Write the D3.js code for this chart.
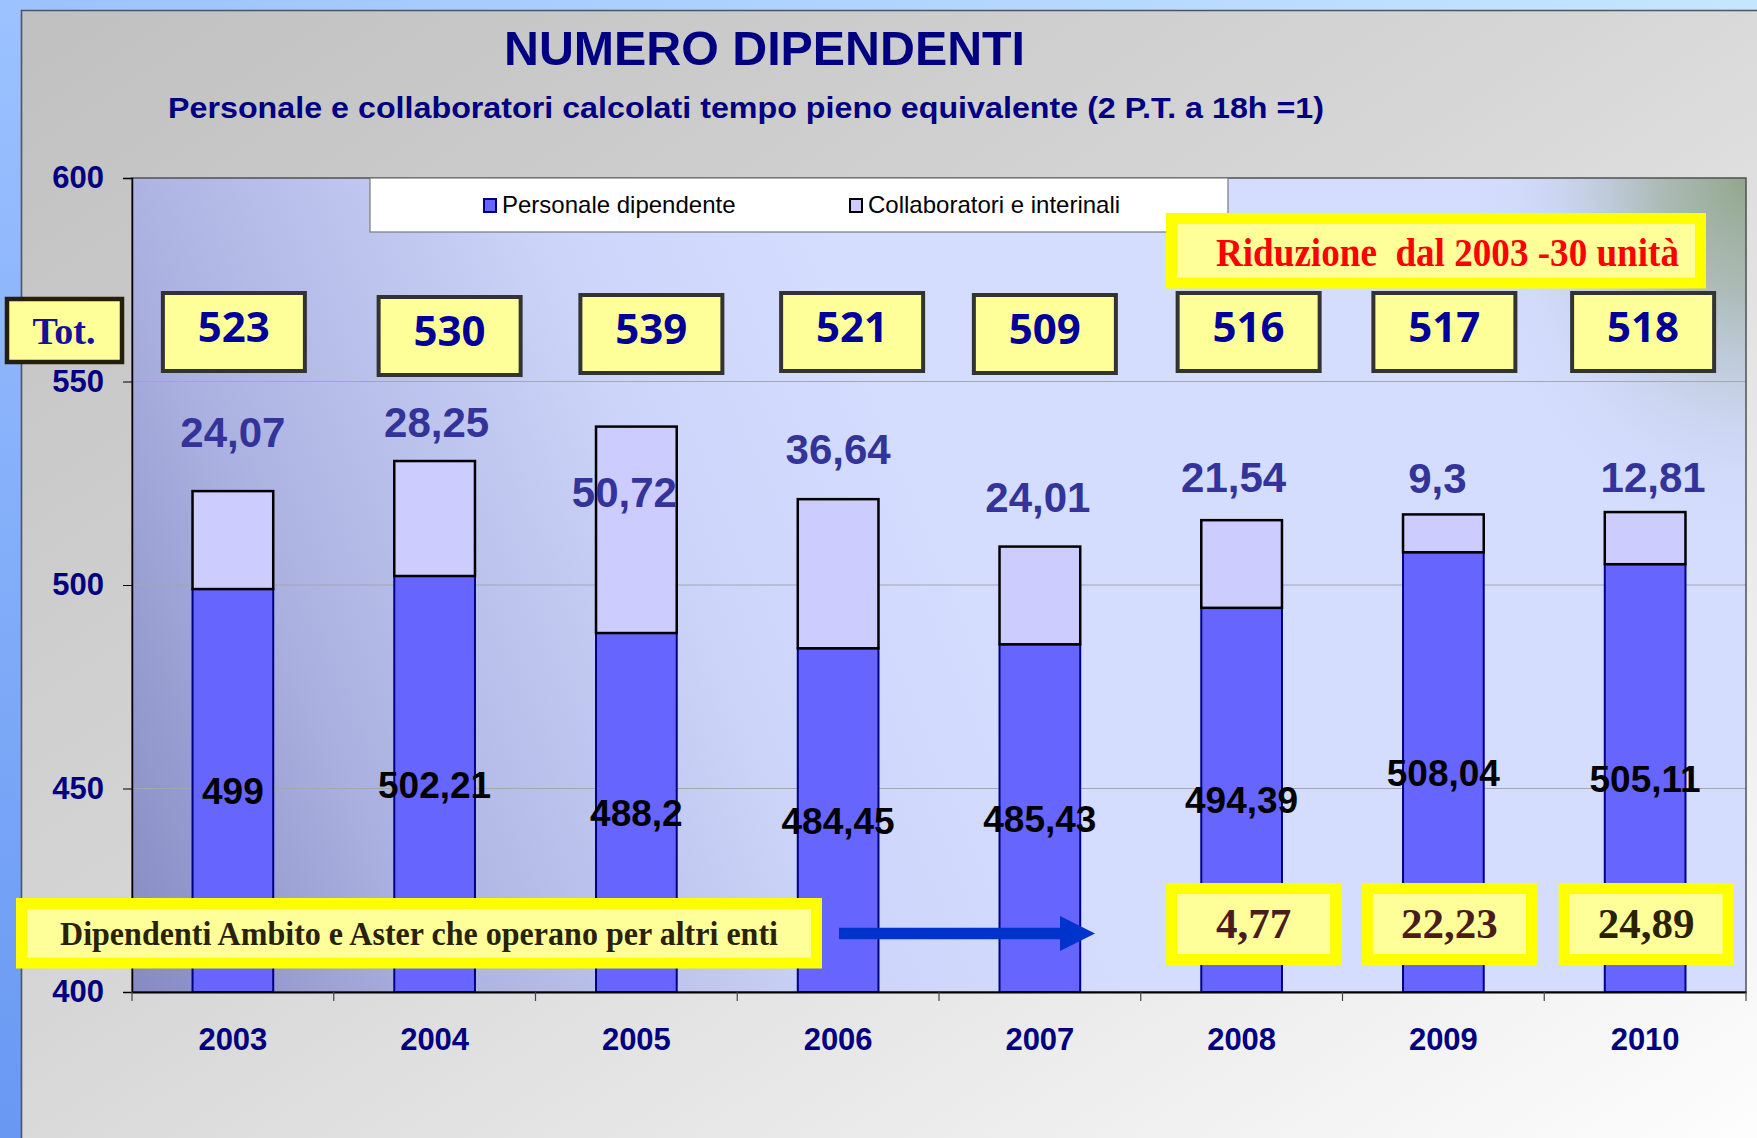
<!DOCTYPE html>
<html><head><meta charset="utf-8">
<script src="https://cdn.jsdelivr.net/npm/d3@7"></script>
<style>html,body{margin:0;padding:0;background:#fff;overflow:hidden} svg{display:block}</style>
</head><body>
<script>
// ---------- DATA ----------
const years = ["2003","2004","2005","2006","2007","2008","2009","2010"];
const personale = [499, 502.21, 488.2, 484.45, 485.43, 494.39, 508.04, 505.11];
const collaboratori = [24.07, 28.25, 50.72, 36.64, 24.01, 21.54, 9.3, 12.81];
const totali = [523, 530, 539, 521, 509, 516, 517, 518];
const altriEntiYears = ["2008","2009","2010"];
const altriEnti = [4.77, 22.23, 24.89];
const yTicks = [400, 450, 500, 550, 600];
const seriesNames = ["Personale dipendente", "Collaboratori e interinali"];

// ---------- LAYOUT (label placement) ----------
const collabLabelAt = [537.5, 540, 522.8, 533.3, 521.6, 526.5, 526.2, 526.5]; // axis value of label centre
const collabLabelDx = [0, 2, -12, 0, -2, -8, -6, 8];
const totBoxDx = [1, 15, 15, 14, 5, 7, 1, -2];
const totBoxTop = [291, 295, 293, 291, 293, 291, 291, 291];
const altriBoxDx = [12, 6, 1];

const fmt = v => String(v).replace(".", ",");
const W = 1757, H = 1138;
const plot = {x0: 132, x1: 1746, y0: 178, y1: 992};

const svg = d3.select("body").append("svg").attr("width", W).attr("height", H);
const defs = svg.append("defs");

function linGrad(id, x1, y1, x2, y2, stops, user) {
  const g = defs.append("linearGradient").attr("id", id)
    .attr("x1", x1).attr("y1", y1).attr("x2", x2).attr("y2", y2);
  if (user) g.attr("gradientUnits", "userSpaceOnUse");
  stops.forEach(s => g.append("stop").attr("offset", s[0]).attr("stop-color", s[1]).attr("stop-opacity", s[2] == null ? 1 : s[2]));
}
linGrad("topStrip", 0, 0, 1, 0, [[0, "#9cc2ff"], [1, "#c6e6ff"]]);
linGrad("leftStrip", 0, 0, 0, 1, [[0, "#9cc2ff"], [1, "#6898f2"]]);
linGrad("panel", 0, 0, 1, 1, [[0, "#c0c0c0"], [0.45, "#d6d6d6"], [1, "#fdfdfd"]]);
linGrad("plotBg", plot.x0, plot.y1, 990, 636, [[0, "#858ac2"], [0.34, "#aeb4e2"], [0.75, "#cdd6fa"], [1, "#d4ddfe"]], true);
const rg = defs.append("radialGradient").attr("id", "corner")
  .attr("gradientUnits", "userSpaceOnUse").attr("cx", plot.x1).attr("cy", plot.y0).attr("r", 300)
  .attr("gradientTransform", `translate(${plot.x1},${plot.y0}) scale(1,1.3) translate(${-plot.x1},${-plot.y0})`);
[[0, "#92a78c", 1], [0.3, "#a6b6ac", 0.85], [0.7, "#c4d0e8", 0.35], [1, "#d4ddfe", 0]]
  .forEach(s => rg.append("stop").attr("offset", s[0]).attr("stop-color", s[1]).attr("stop-opacity", s[2]));

// ---------- BACKGROUND ----------
svg.append("rect").attr("width", W).attr("height", H).attr("fill", "url(#topStrip)");
svg.append("rect").attr("x", 0).attr("y", 0).attr("width", 22).attr("height", H).attr("fill", "url(#leftStrip)");
svg.append("rect").attr("x", 21.5).attr("y", 10.5).attr("width", W - 21).attr("height", H - 10).attr("fill", "url(#panel)");
svg.append("path").attr("d", `M21.5,${H} V10.5 H${W}`).attr("fill", "none").attr("stroke", "#4c5466").attr("stroke-width", 1.6);

// ---------- TITLES ----------
const SANS = "'Liberation Sans', Arial, sans-serif";
const SERIF = "'Liberation Serif', 'Times New Roman', serif";
svg.append("text").attr("x", 504).attr("y", 65).attr("textLength", 521).attr("lengthAdjust", "spacingAndGlyphs")
  .attr("font-family", SANS).attr("font-weight", "bold").attr("font-size", 49).attr("fill", "#000080")
  .text("NUMERO DIPENDENTI");
svg.append("text").attr("x", 168).attr("y", 118).attr("textLength", 1156).attr("lengthAdjust", "spacingAndGlyphs")
  .attr("font-family", SANS).attr("font-weight", "bold").attr("font-size", 30).attr("fill", "#000080")
  .text("Personale e collaboratori calcolati tempo pieno equivalente (2 P.T. a 18h =1)");

// ---------- SCALES ----------
const x = d3.scaleBand().domain(years).range([plot.x0, plot.x1]).padding(0);
const y = d3.scaleLinear().domain([400, 600]).range([plot.y1, plot.y0]);
const barW = x.bandwidth() * 0.4;
const cx = d => x(d) + x.bandwidth() / 2;

// ---------- PLOT AREA ----------
svg.append("rect").attr("x", plot.x0).attr("y", plot.y0).attr("width", plot.x1 - plot.x0).attr("height", plot.y1 - plot.y0).attr("fill", "url(#plotBg)");
svg.append("rect").attr("x", plot.x0).attr("y", plot.y0).attr("width", plot.x1 - plot.x0).attr("height", plot.y1 - plot.y0).attr("fill", "url(#corner)");
svg.append("g").selectAll("line").data(yTicks.filter(t => t > 400 && t < 600)).join("line")
  .attr("x1", plot.x0).attr("x2", plot.x1).attr("y1", d => y(d)).attr("y2", d => y(d))
  .attr("stroke", "#a4a6b4").attr("stroke-width", 1.2);
svg.append("rect").attr("x", plot.x0).attr("y", plot.y0).attr("width", plot.x1 - plot.x0).attr("height", plot.y1 - plot.y0)
  .attr("fill", "none").attr("stroke", "#505050").attr("stroke-width", 1.5);

// ---------- BARS ----------
const rows = years.map((yr, i) => ({yr, p: personale[i], c: collaboratori[i], i}));
const gb = svg.append("g");
gb.selectAll("rect.p").data(rows).join("rect").attr("class", "p")
  .attr("x", d => cx(d.yr) - barW / 2).attr("width", barW)
  .attr("y", d => y(d.p)).attr("height", d => y(400) - y(d.p))
  .attr("fill", "#6666ff").attr("stroke", "#000080").attr("stroke-width", 2);
gb.selectAll("rect.c").data(rows).join("rect").attr("class", "c")
  .attr("x", d => cx(d.yr) - barW / 2).attr("width", barW)
  .attr("y", d => y(d.p + d.c)).attr("height", d => y(d.p) - y(d.p + d.c))
  .attr("fill", "#ccccff").attr("stroke", "#000").attr("stroke-width", 2.5);

// ---------- AXES ----------
const yAxis = svg.append("g").attr("transform", `translate(${plot.x0},0)`)
  .call(d3.axisLeft(y).tickValues(yTicks).tickSize(9).tickPadding(19).tickFormat(d3.format("d")));
yAxis.select(".domain").attr("stroke", "#000").attr("stroke-width", 1.5);
yAxis.selectAll(".tick line").attr("stroke", "#000");
yAxis.selectAll(".tick text").attr("font-family", SANS).attr("font-weight", "bold").attr("font-size", 31).attr("fill", "#000080");

const xAxis = svg.append("g").attr("transform", `translate(0,${plot.y1})`)
  .call(d3.axisBottom(x).tickSize(0).tickPadding(36));
xAxis.select(".domain").attr("stroke", "#000").attr("stroke-width", 1.8);
xAxis.selectAll(".tick text").attr("font-family", SANS).attr("font-weight", "bold").attr("font-size", 31).attr("fill", "#000080");
svg.append("g").selectAll("line").data(years.map(d => x(d)).concat([plot.x1])).join("line")
  .attr("x1", d => d).attr("x2", d => d).attr("y1", plot.y1).attr("y2", plot.y1 + 9)
  .attr("stroke", "#444").attr("stroke-width", 1.2);

// ---------- DATA LABELS ----------
svg.append("g").selectAll("text").data(rows).join("text")
  .attr("x", d => cx(d.yr)).attr("y", d => y((400 + d.p) / 2) + 13.5)
  .attr("text-anchor", "middle").attr("font-family", SANS).attr("font-weight", "bold").attr("font-size", 37)
  .attr("fill", "#000").text(d => fmt(d.p));
svg.append("g").selectAll("text").data(rows).join("text")
  .attr("x", d => cx(d.yr) + collabLabelDx[d.i]).attr("y", d => y(collabLabelAt[d.i]) + 15)
  .attr("text-anchor", "middle").attr("font-family", SANS).attr("font-weight", "bold").attr("font-size", 42)
  .attr("fill", "#333399").text(d => fmt(d.c));

// ---------- LEGEND ----------
const lg = svg.append("g");
lg.append("rect").attr("x", 370).attr("y", 178).attr("width", 858).attr("height", 54).attr("fill", "#fff").attr("stroke", "#7a7a7a").attr("stroke-width", 1.2);
const legendItems = [{name: seriesNames[0], fill: "#6666ff", stroke: "#000080", x: 484},
                     {name: seriesNames[1], fill: "#ccccff", stroke: "#000", x: 850}];
legendItems.forEach(it => {
  lg.append("rect").attr("x", it.x).attr("y", 199).attr("width", 12).attr("height", 13)
    .attr("fill", it.fill).attr("stroke", it.stroke).attr("stroke-width", 2);
  lg.append("text").attr("x", it.x + 18).attr("y", 213).attr("font-family", SANS).attr("font-size", 24).attr("fill", "#000").text(it.name);
});

// ---------- TOTAL BOXES ----------
const tb = svg.append("g");
tb.append("rect").attr("x", 7).attr("y", 299).attr("width", 115).attr("height", 63)
  .attr("fill", "#ffff99").attr("stroke", "#231f0a").attr("stroke-width", 4.5);
tb.append("text").attr("x", 64).attr("y", 344).attr("text-anchor", "middle")
  .attr("font-family", SERIF).attr("font-weight", "bold").attr("font-size", 38).attr("fill", "#12129a").text("Tot.");
const tg = tb.selectAll("g.t").data(rows).join("g").attr("class", "t");
tg.append("rect").attr("x", d => cx(d.yr) + totBoxDx[d.i] - 71).attr("y", d => totBoxTop[d.i] + 2)
  .attr("width", 142).attr("height", 78).attr("fill", "#ffff99").attr("stroke", "#333").attr("stroke-width", 4);
tg.append("text").attr("x", d => cx(d.yr) + totBoxDx[d.i]).attr("y", d => totBoxTop[d.i] + 51)
  .attr("text-anchor", "middle").attr("font-family", "'Open Sans', sans-serif").attr("font-weight", "bold").attr("font-size", 42)
  .attr("fill", "#000099").text((d) => totali[d.i]);

// ---------- RED NOTE ----------
svg.append("rect").attr("x", 1171.5).attr("y", 218.5).attr("width", 529).attr("height", 64.5)
  .attr("fill", "#ffff99").attr("stroke", "#ffff00").attr("stroke-width", 11);
svg.append("text").attr("x", 1216).attr("y", 266).attr("textLength", 463).attr("lengthAdjust", "spacingAndGlyphs")
  .attr("font-family", SERIF).attr("font-weight", "bold").attr("font-size", 39).attr("fill", "#ff0000")
  .attr("xml:space", "preserve").style("white-space", "pre").text("Riduzione  dal 2003 -30 unità");

// ---------- ALTRI ENTI ----------
svg.append("rect").attr("x", 21.5).attr("y", 903.5).attr("width", 795).attr("height", 59.5)
  .attr("fill", "#ffff99").attr("stroke", "#ffff00").attr("stroke-width", 11);
svg.append("text").attr("x", 60).attr("y", 945).attr("textLength", 718).attr("lengthAdjust", "spacingAndGlyphs")
  .attr("font-family", SERIF).attr("font-weight", "bold").attr("font-size", 34).attr("fill", "#2a2208")
  .text("Dipendenti Ambito e Aster che operano per altri enti");
svg.append("line").attr("x1", 839).attr("x2", 1062).attr("y1", 933.5).attr("y2", 933.5).attr("stroke", "#0033cc").attr("stroke-width", 11.6);
svg.append("path").attr("d", "M1060,916 L1095,933.5 L1060,951 Z").attr("fill", "#0033cc");

const altriColors = ["#4a1c1c", "#4a1c1c", "#2a2200"];
const ag = svg.append("g").selectAll("g").data(altriEntiYears.map((yr, i) => ({yr, v: altriEnti[i], i}))).join("g");
ag.append("rect").attr("x", d => cx(d.yr) + altriBoxDx[d.i] - 82).attr("y", 888.5)
  .attr("width", 164).attr("height", 71).attr("fill", "#ffff99").attr("stroke", "#ffff00").attr("stroke-width", 11);
ag.append("text").attr("x", d => cx(d.yr) + altriBoxDx[d.i]).attr("y", 938).attr("text-anchor", "middle")
  .attr("font-family", SERIF).attr("font-weight", "bold").attr("font-size", 43).attr("fill", d => altriColors[d.i])
  .text(d => fmt(d.v));
</script>
</body></html>
